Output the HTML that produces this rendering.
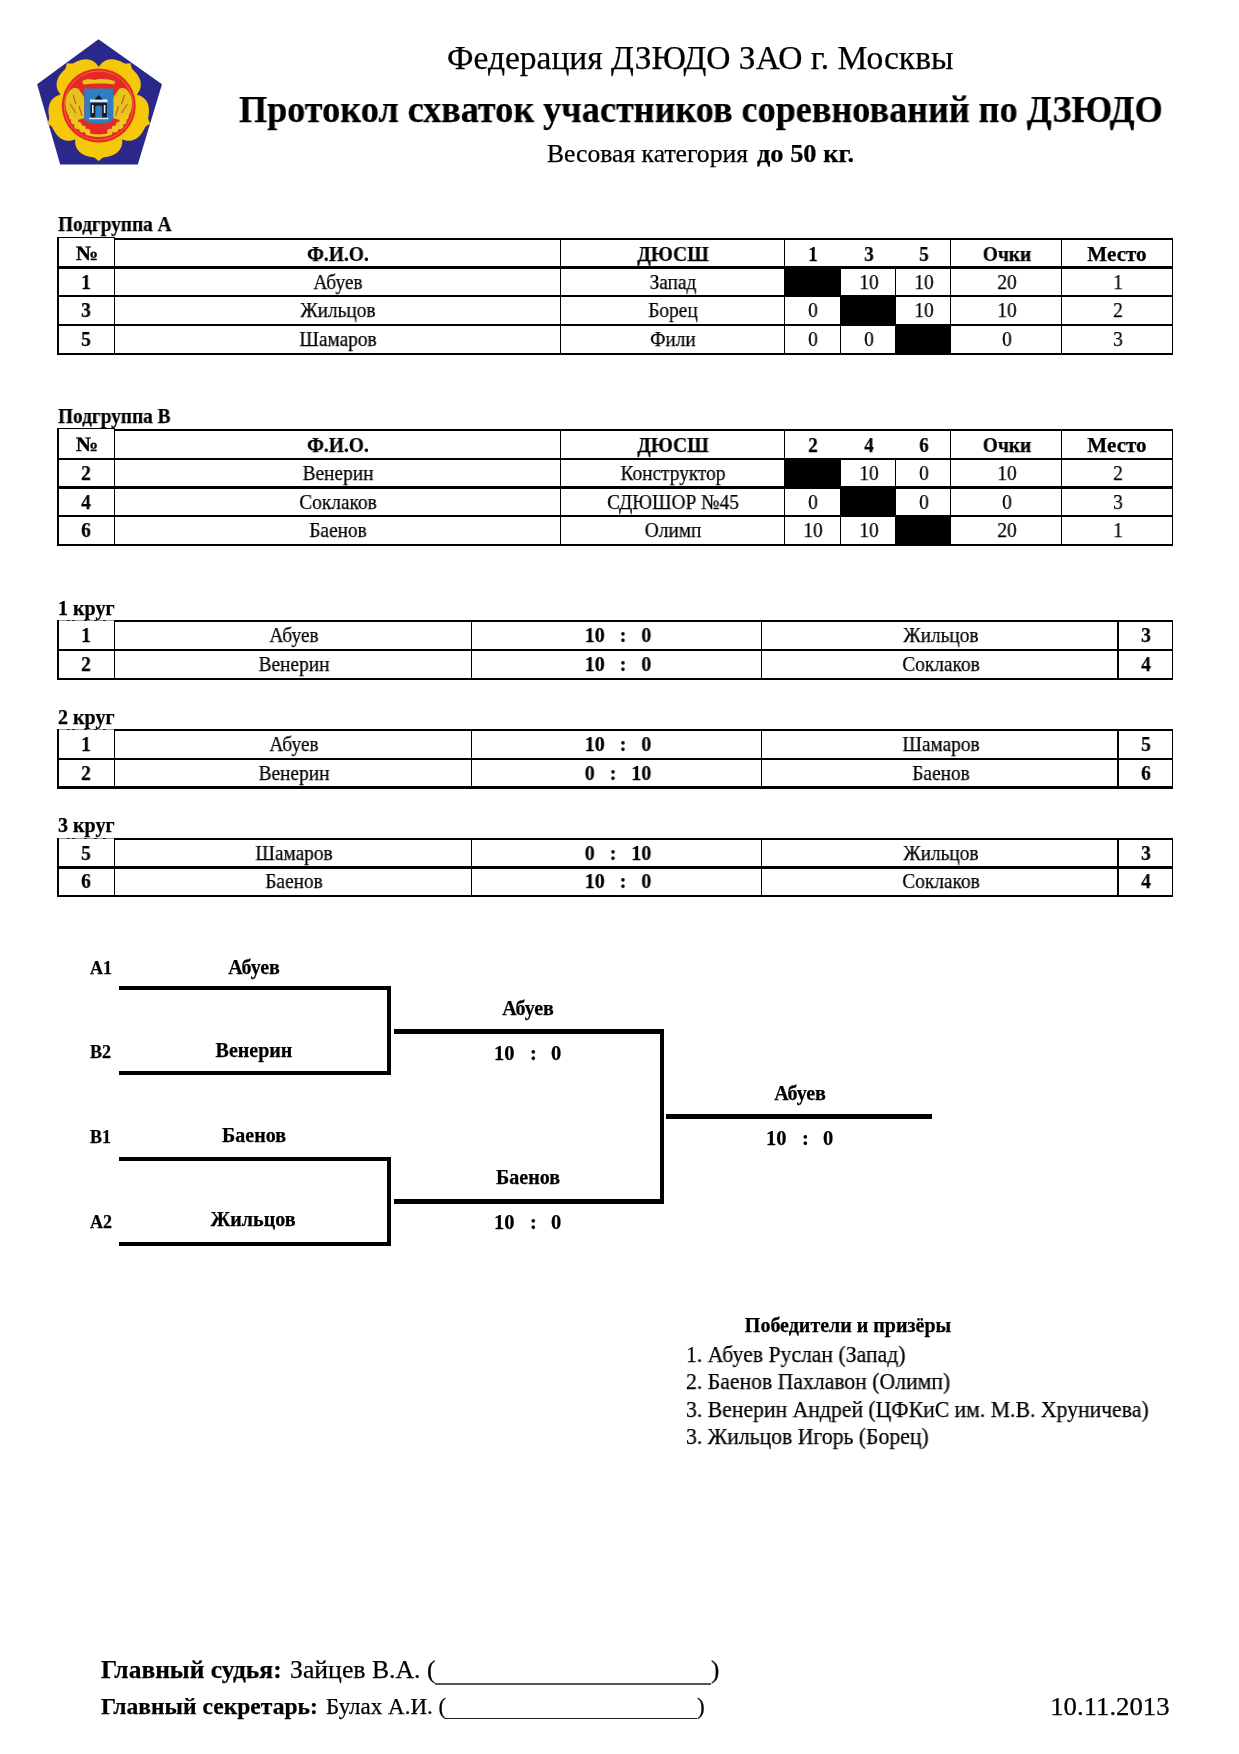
<!DOCTYPE html>
<html><head><meta charset="utf-8"><style>
html,body{margin:0;padding:0;background:#fff;}
body{width:1239px;height:1754px;position:relative;overflow:hidden;font-family:"Liberation Serif",serif;color:#000;}
.t{position:absolute;white-space:nowrap;line-height:1;will-change:transform;-webkit-text-stroke:0.25px #000;}
.r{position:absolute;}
</style></head><body>
<div class="t" style="top:40.94px;font-size:33.5px;left:447.00px;transform-origin:0 0;">Федерация ДЗЮДО ЗАО г. Москвы</div>
<div class="t" style="top:91.01px;font-size:37px;font-weight:bold;left:239.00px;transform-origin:0 0;transform:scaleX(0.978);">Протокол схваток участников соревнований по ДЗЮДО</div>
<div class="t" style="top:141.88px;font-size:24.5px;left:547.00px;transform-origin:0 0;transform:scaleX(1.046);">Весовая категория</div>
<div class="t" style="top:141.88px;font-size:24.5px;font-weight:bold;left:757.00px;transform-origin:0 0;transform:scaleX(1.078);">до 50 кг.</div>
<div class="t" style="top:214.01px;font-size:21px;font-weight:bold;left:58.00px;transform-origin:0 0;transform:scaleX(0.92);">Подгруппа А</div>
<div class="r" style="left:784px;top:266px;width:57px;height:31px;background:#000"></div>
<div class="r" style="left:840px;top:295px;width:56px;height:31px;background:#000"></div>
<div class="r" style="left:895px;top:324px;width:56px;height:31px;background:#000"></div>
<div class="r" style="left:114px;top:238px;width:1059px;height:2px;background:#000"></div>
<div class="r" style="left:57px;top:237px;width:58px;height:1px;background:#000"></div>
<div class="r" style="left:57px;top:266px;width:1116px;height:3px;background:#000"></div>
<div class="r" style="left:57px;top:295px;width:1116px;height:2px;background:#000"></div>
<div class="r" style="left:57px;top:324px;width:1116px;height:2px;background:#000"></div>
<div class="r" style="left:57px;top:353px;width:1116px;height:2px;background:#000"></div>
<div class="r" style="left:57px;top:237px;width:2px;height:118px;background:#000"></div>
<div class="r" style="left:1172px;top:238px;width:1px;height:117px;background:#000"></div>
<div class="r" style="left:114px;top:238px;width:1px;height:117px;background:#000"></div>
<div class="r" style="left:560px;top:238px;width:1px;height:117px;background:#000"></div>
<div class="r" style="left:784px;top:238px;width:1px;height:117px;background:#000"></div>
<div class="r" style="left:950px;top:238px;width:1px;height:117px;background:#000"></div>
<div class="r" style="left:1061px;top:238px;width:1px;height:117px;background:#000"></div>
<div class="r" style="left:840px;top:266px;width:1px;height:89px;background:#000"></div>
<div class="r" style="left:895px;top:266px;width:1px;height:89px;background:#000"></div>
<div class="t" style="top:242.53px;font-size:20.5px;font-weight:bold;left:87.00px;transform-origin:50% 0;transform:translateX(-50%) scaleX(1.1);">№</div>
<div class="t" style="top:243.83px;font-size:20.5px;font-weight:bold;left:338.00px;transform-origin:50% 0;transform:translateX(-50%) scaleX(0.95);">Ф.И.О.</div>
<div class="t" style="top:243.83px;font-size:20.5px;font-weight:bold;left:673.00px;transform-origin:50% 0;transform:translateX(-50%) scaleX(0.96);">ДЮСШ</div>
<div class="t" style="top:243.83px;font-size:20.5px;font-weight:bold;left:813.00px;transform-origin:50% 0;transform:translateX(-50%) scaleX(0.92);">1</div>
<div class="t" style="top:243.83px;font-size:20.5px;font-weight:bold;left:868.50px;transform-origin:50% 0;transform:translateX(-50%) scaleX(0.92);">3</div>
<div class="t" style="top:243.83px;font-size:20.5px;font-weight:bold;left:923.50px;transform-origin:50% 0;transform:translateX(-50%) scaleX(0.92);">5</div>
<div class="t" style="top:243.83px;font-size:20.5px;font-weight:bold;left:1006.50px;transform-origin:50% 0;transform:translateX(-50%) scaleX(0.95);">Очки</div>
<div class="t" style="top:243.83px;font-size:20.5px;font-weight:bold;left:1117.00px;transform-origin:50% 0;transform:translateX(-50%) scaleX(1.03);">Место</div>
<div class="t" style="top:272.11px;font-size:21px;font-weight:bold;left:85.80px;transform-origin:50% 0;transform:translateX(-50%) scaleX(0.92);">1</div>
<div class="t" style="top:272.11px;font-size:21px;left:338.00px;transform-origin:50% 0;transform:translateX(-50%) scaleX(0.92);">Абуев</div>
<div class="t" style="top:272.11px;font-size:21px;left:673.00px;transform-origin:50% 0;transform:translateX(-50%) scaleX(0.92);">Запад</div>
<div class="t" style="top:272.11px;font-size:21px;left:868.50px;transform-origin:50% 0;transform:translateX(-50%) scaleX(0.92);">10</div>
<div class="t" style="top:272.11px;font-size:21px;left:923.50px;transform-origin:50% 0;transform:translateX(-50%) scaleX(0.92);">10</div>
<div class="t" style="top:272.11px;font-size:21px;left:1006.50px;transform-origin:50% 0;transform:translateX(-50%) scaleX(0.92);">20</div>
<div class="t" style="top:272.11px;font-size:21px;left:1117.50px;transform-origin:50% 0;transform:translateX(-50%) scaleX(0.92);">1</div>
<div class="t" style="top:300.21px;font-size:21px;font-weight:bold;left:85.80px;transform-origin:50% 0;transform:translateX(-50%) scaleX(0.92);">3</div>
<div class="t" style="top:300.21px;font-size:21px;left:338.00px;transform-origin:50% 0;transform:translateX(-50%) scaleX(0.92);">Жильцов</div>
<div class="t" style="top:300.21px;font-size:21px;left:673.00px;transform-origin:50% 0;transform:translateX(-50%) scaleX(0.92);">Борец</div>
<div class="t" style="top:300.21px;font-size:21px;left:813.00px;transform-origin:50% 0;transform:translateX(-50%) scaleX(0.92);">0</div>
<div class="t" style="top:300.21px;font-size:21px;left:923.50px;transform-origin:50% 0;transform:translateX(-50%) scaleX(0.92);">10</div>
<div class="t" style="top:300.21px;font-size:21px;left:1006.50px;transform-origin:50% 0;transform:translateX(-50%) scaleX(0.92);">10</div>
<div class="t" style="top:300.21px;font-size:21px;left:1117.50px;transform-origin:50% 0;transform:translateX(-50%) scaleX(0.92);">2</div>
<div class="t" style="top:329.31px;font-size:21px;font-weight:bold;left:85.80px;transform-origin:50% 0;transform:translateX(-50%) scaleX(0.92);">5</div>
<div class="t" style="top:329.31px;font-size:21px;left:338.00px;transform-origin:50% 0;transform:translateX(-50%) scaleX(0.92);">Шамаров</div>
<div class="t" style="top:329.31px;font-size:21px;left:673.00px;transform-origin:50% 0;transform:translateX(-50%) scaleX(0.92);">Фили</div>
<div class="t" style="top:329.31px;font-size:21px;left:813.00px;transform-origin:50% 0;transform:translateX(-50%) scaleX(0.92);">0</div>
<div class="t" style="top:329.31px;font-size:21px;left:868.50px;transform-origin:50% 0;transform:translateX(-50%) scaleX(0.92);">0</div>
<div class="t" style="top:329.31px;font-size:21px;left:1006.50px;transform-origin:50% 0;transform:translateX(-50%) scaleX(0.92);">0</div>
<div class="t" style="top:329.31px;font-size:21px;left:1117.50px;transform-origin:50% 0;transform:translateX(-50%) scaleX(0.92);">3</div>
<div class="t" style="top:406.11px;font-size:21px;font-weight:bold;left:58.00px;transform-origin:0 0;transform:scaleX(0.92);">Подгруппа В</div>
<div class="r" style="left:784px;top:458px;width:57px;height:31px;background:#000"></div>
<div class="r" style="left:840px;top:486px;width:56px;height:31px;background:#000"></div>
<div class="r" style="left:895px;top:515px;width:56px;height:31px;background:#000"></div>
<div class="r" style="left:114px;top:429px;width:1059px;height:2px;background:#000"></div>
<div class="r" style="left:57px;top:428px;width:58px;height:1px;background:#000"></div>
<div class="r" style="left:57px;top:458px;width:1116px;height:2px;background:#000"></div>
<div class="r" style="left:57px;top:486px;width:1116px;height:3px;background:#000"></div>
<div class="r" style="left:57px;top:515px;width:1116px;height:2px;background:#000"></div>
<div class="r" style="left:57px;top:544px;width:1116px;height:2px;background:#000"></div>
<div class="r" style="left:57px;top:428px;width:2px;height:118px;background:#000"></div>
<div class="r" style="left:1172px;top:429px;width:1px;height:117px;background:#000"></div>
<div class="r" style="left:114px;top:429px;width:1px;height:117px;background:#000"></div>
<div class="r" style="left:560px;top:429px;width:1px;height:117px;background:#000"></div>
<div class="r" style="left:784px;top:429px;width:1px;height:117px;background:#000"></div>
<div class="r" style="left:950px;top:429px;width:1px;height:117px;background:#000"></div>
<div class="r" style="left:1061px;top:429px;width:1px;height:117px;background:#000"></div>
<div class="r" style="left:840px;top:458px;width:1px;height:88px;background:#000"></div>
<div class="r" style="left:895px;top:458px;width:1px;height:88px;background:#000"></div>
<div class="t" style="top:434.03px;font-size:20.5px;font-weight:bold;left:87.00px;transform-origin:50% 0;transform:translateX(-50%) scaleX(1.1);">№</div>
<div class="t" style="top:435.33px;font-size:20.5px;font-weight:bold;left:338.00px;transform-origin:50% 0;transform:translateX(-50%) scaleX(0.95);">Ф.И.О.</div>
<div class="t" style="top:435.33px;font-size:20.5px;font-weight:bold;left:673.00px;transform-origin:50% 0;transform:translateX(-50%) scaleX(0.96);">ДЮСШ</div>
<div class="t" style="top:435.33px;font-size:20.5px;font-weight:bold;left:813.00px;transform-origin:50% 0;transform:translateX(-50%) scaleX(0.92);">2</div>
<div class="t" style="top:435.33px;font-size:20.5px;font-weight:bold;left:868.50px;transform-origin:50% 0;transform:translateX(-50%) scaleX(0.92);">4</div>
<div class="t" style="top:435.33px;font-size:20.5px;font-weight:bold;left:923.50px;transform-origin:50% 0;transform:translateX(-50%) scaleX(0.92);">6</div>
<div class="t" style="top:435.33px;font-size:20.5px;font-weight:bold;left:1006.50px;transform-origin:50% 0;transform:translateX(-50%) scaleX(0.95);">Очки</div>
<div class="t" style="top:435.33px;font-size:20.5px;font-weight:bold;left:1117.00px;transform-origin:50% 0;transform:translateX(-50%) scaleX(1.03);">Место</div>
<div class="t" style="top:463.41px;font-size:21px;font-weight:bold;left:85.80px;transform-origin:50% 0;transform:translateX(-50%) scaleX(0.92);">2</div>
<div class="t" style="top:463.41px;font-size:21px;left:338.00px;transform-origin:50% 0;transform:translateX(-50%) scaleX(0.92);">Венерин</div>
<div class="t" style="top:463.41px;font-size:21px;left:673.00px;transform-origin:50% 0;transform:translateX(-50%) scaleX(0.92);">Конструктор</div>
<div class="t" style="top:463.41px;font-size:21px;left:868.50px;transform-origin:50% 0;transform:translateX(-50%) scaleX(0.92);">10</div>
<div class="t" style="top:463.41px;font-size:21px;left:923.50px;transform-origin:50% 0;transform:translateX(-50%) scaleX(0.92);">0</div>
<div class="t" style="top:463.41px;font-size:21px;left:1006.50px;transform-origin:50% 0;transform:translateX(-50%) scaleX(0.92);">10</div>
<div class="t" style="top:463.41px;font-size:21px;left:1117.50px;transform-origin:50% 0;transform:translateX(-50%) scaleX(0.92);">2</div>
<div class="t" style="top:492.41px;font-size:21px;font-weight:bold;left:85.80px;transform-origin:50% 0;transform:translateX(-50%) scaleX(0.92);">4</div>
<div class="t" style="top:492.41px;font-size:21px;left:338.00px;transform-origin:50% 0;transform:translateX(-50%) scaleX(0.92);">Соклаков</div>
<div class="t" style="top:492.41px;font-size:21px;left:673.00px;transform-origin:50% 0;transform:translateX(-50%) scaleX(0.92);">СДЮШОР №45</div>
<div class="t" style="top:492.41px;font-size:21px;left:813.00px;transform-origin:50% 0;transform:translateX(-50%) scaleX(0.92);">0</div>
<div class="t" style="top:492.41px;font-size:21px;left:923.50px;transform-origin:50% 0;transform:translateX(-50%) scaleX(0.92);">0</div>
<div class="t" style="top:492.41px;font-size:21px;left:1006.50px;transform-origin:50% 0;transform:translateX(-50%) scaleX(0.92);">0</div>
<div class="t" style="top:492.41px;font-size:21px;left:1117.50px;transform-origin:50% 0;transform:translateX(-50%) scaleX(0.92);">3</div>
<div class="t" style="top:520.41px;font-size:21px;font-weight:bold;left:85.80px;transform-origin:50% 0;transform:translateX(-50%) scaleX(0.92);">6</div>
<div class="t" style="top:520.41px;font-size:21px;left:338.00px;transform-origin:50% 0;transform:translateX(-50%) scaleX(0.92);">Баенов</div>
<div class="t" style="top:520.41px;font-size:21px;left:673.00px;transform-origin:50% 0;transform:translateX(-50%) scaleX(0.92);">Олимп</div>
<div class="t" style="top:520.41px;font-size:21px;left:813.00px;transform-origin:50% 0;transform:translateX(-50%) scaleX(0.92);">10</div>
<div class="t" style="top:520.41px;font-size:21px;left:868.50px;transform-origin:50% 0;transform:translateX(-50%) scaleX(0.92);">10</div>
<div class="t" style="top:520.41px;font-size:21px;left:1006.50px;transform-origin:50% 0;transform:translateX(-50%) scaleX(0.92);">20</div>
<div class="t" style="top:520.41px;font-size:21px;left:1117.50px;transform-origin:50% 0;transform:translateX(-50%) scaleX(0.92);">1</div>
<div class="t" style="top:598.45px;font-size:20px;font-weight:bold;left:58.00px;transform-origin:0 0;">1 круг</div>
<div class="r" style="left:114px;top:620px;width:1059px;height:2px;background:#000"></div>
<div class="r" style="left:57px;top:619.5px;width:57px;height:1.5px;background:#9a9a9a"></div>
<div class="r" style="left:67px;top:619.5px;width:3px;height:1.5px;background:#222"></div>
<div class="r" style="left:71.5px;top:619.5px;width:3.0px;height:1.5px;background:#222"></div>
<div class="r" style="left:83.5px;top:619.5px;width:3.5px;height:1.5px;background:#222"></div>
<div class="r" style="left:93.5px;top:619.5px;width:3.5px;height:1.5px;background:#222"></div>
<div class="r" style="left:103px;top:619.5px;width:3px;height:1.5px;background:#222"></div>
<div class="r" style="left:57px;top:649px;width:1116px;height:2px;background:#000"></div>
<div class="r" style="left:57px;top:678px;width:1116px;height:2px;background:#000"></div>
<div class="r" style="left:57px;top:620px;width:2px;height:60px;background:#000"></div>
<div class="r" style="left:1172px;top:620px;width:1px;height:60px;background:#000"></div>
<div class="r" style="left:114px;top:620px;width:1px;height:60px;background:#000"></div>
<div class="r" style="left:471px;top:620px;width:1px;height:60px;background:#000"></div>
<div class="r" style="left:761px;top:620px;width:1px;height:60px;background:#000"></div>
<div class="r" style="left:1117px;top:620px;width:2px;height:60px;background:#000"></div>
<div class="t" style="top:625.41px;font-size:21px;font-weight:bold;left:85.50px;transform-origin:50% 0;transform:translateX(-50%) scaleX(0.92);">1</div>
<div class="t" style="top:625.41px;font-size:21px;left:293.50px;transform-origin:50% 0;transform:translateX(-50%) scaleX(0.92);">Абуев</div>
<div class="t" style="top:625.41px;font-size:21px;font-weight:bold;left:617.50px;transform-origin:50% 0;transform:translateX(-50%) scaleX(0.95);">10&nbsp;&nbsp;&nbsp;:&nbsp;&nbsp;&nbsp;0</div>
<div class="t" style="top:625.41px;font-size:21px;left:940.50px;transform-origin:50% 0;transform:translateX(-50%) scaleX(0.92);">Жильцов</div>
<div class="t" style="top:625.41px;font-size:21px;font-weight:bold;left:1145.50px;transform-origin:50% 0;transform:translateX(-50%) scaleX(0.92);">3</div>
<div class="t" style="top:654.21px;font-size:21px;font-weight:bold;left:85.50px;transform-origin:50% 0;transform:translateX(-50%) scaleX(0.92);">2</div>
<div class="t" style="top:654.21px;font-size:21px;left:293.50px;transform-origin:50% 0;transform:translateX(-50%) scaleX(0.92);">Венерин</div>
<div class="t" style="top:654.21px;font-size:21px;font-weight:bold;left:617.50px;transform-origin:50% 0;transform:translateX(-50%) scaleX(0.95);">10&nbsp;&nbsp;&nbsp;:&nbsp;&nbsp;&nbsp;0</div>
<div class="t" style="top:654.21px;font-size:21px;left:940.50px;transform-origin:50% 0;transform:translateX(-50%) scaleX(0.92);">Соклаков</div>
<div class="t" style="top:654.21px;font-size:21px;font-weight:bold;left:1145.50px;transform-origin:50% 0;transform:translateX(-50%) scaleX(0.92);">4</div>
<div class="t" style="top:707.15px;font-size:20px;font-weight:bold;left:58.00px;transform-origin:0 0;">2 круг</div>
<div class="r" style="left:114px;top:729px;width:1059px;height:2px;background:#000"></div>
<div class="r" style="left:57px;top:728.5px;width:57px;height:1.5px;background:#9a9a9a"></div>
<div class="r" style="left:67px;top:728.5px;width:3px;height:1.5px;background:#222"></div>
<div class="r" style="left:71.5px;top:728.5px;width:3.0px;height:1.5px;background:#222"></div>
<div class="r" style="left:83.5px;top:728.5px;width:3.5px;height:1.5px;background:#222"></div>
<div class="r" style="left:93.5px;top:728.5px;width:3.5px;height:1.5px;background:#222"></div>
<div class="r" style="left:103px;top:728.5px;width:3px;height:1.5px;background:#222"></div>
<div class="r" style="left:57px;top:758px;width:1116px;height:2px;background:#000"></div>
<div class="r" style="left:57px;top:786px;width:1116px;height:3px;background:#000"></div>
<div class="r" style="left:57px;top:729px;width:2px;height:60px;background:#000"></div>
<div class="r" style="left:1172px;top:729px;width:1px;height:60px;background:#000"></div>
<div class="r" style="left:114px;top:729px;width:1px;height:60px;background:#000"></div>
<div class="r" style="left:471px;top:729px;width:1px;height:60px;background:#000"></div>
<div class="r" style="left:761px;top:729px;width:1px;height:60px;background:#000"></div>
<div class="r" style="left:1117px;top:729px;width:2px;height:60px;background:#000"></div>
<div class="t" style="top:734.11px;font-size:21px;font-weight:bold;left:85.50px;transform-origin:50% 0;transform:translateX(-50%) scaleX(0.92);">1</div>
<div class="t" style="top:734.11px;font-size:21px;left:293.50px;transform-origin:50% 0;transform:translateX(-50%) scaleX(0.92);">Абуев</div>
<div class="t" style="top:734.11px;font-size:21px;font-weight:bold;left:617.50px;transform-origin:50% 0;transform:translateX(-50%) scaleX(0.95);">10&nbsp;&nbsp;&nbsp;:&nbsp;&nbsp;&nbsp;0</div>
<div class="t" style="top:734.11px;font-size:21px;left:940.50px;transform-origin:50% 0;transform:translateX(-50%) scaleX(0.92);">Шамаров</div>
<div class="t" style="top:734.11px;font-size:21px;font-weight:bold;left:1145.50px;transform-origin:50% 0;transform:translateX(-50%) scaleX(0.92);">5</div>
<div class="t" style="top:763.21px;font-size:21px;font-weight:bold;left:85.50px;transform-origin:50% 0;transform:translateX(-50%) scaleX(0.92);">2</div>
<div class="t" style="top:763.21px;font-size:21px;left:293.50px;transform-origin:50% 0;transform:translateX(-50%) scaleX(0.92);">Венерин</div>
<div class="t" style="top:763.21px;font-size:21px;font-weight:bold;left:617.50px;transform-origin:50% 0;transform:translateX(-50%) scaleX(0.95);">0&nbsp;&nbsp;&nbsp;:&nbsp;&nbsp;&nbsp;10</div>
<div class="t" style="top:763.21px;font-size:21px;left:940.50px;transform-origin:50% 0;transform:translateX(-50%) scaleX(0.92);">Баенов</div>
<div class="t" style="top:763.21px;font-size:21px;font-weight:bold;left:1145.50px;transform-origin:50% 0;transform:translateX(-50%) scaleX(0.92);">6</div>
<div class="t" style="top:814.85px;font-size:20px;font-weight:bold;left:58.00px;transform-origin:0 0;">3 круг</div>
<div class="r" style="left:114px;top:838px;width:1059px;height:2px;background:#000"></div>
<div class="r" style="left:57px;top:837.5px;width:57px;height:1.5px;background:#9a9a9a"></div>
<div class="r" style="left:67px;top:837.5px;width:3px;height:1.5px;background:#222"></div>
<div class="r" style="left:71.5px;top:837.5px;width:3.0px;height:1.5px;background:#222"></div>
<div class="r" style="left:83.5px;top:837.5px;width:3.5px;height:1.5px;background:#222"></div>
<div class="r" style="left:93.5px;top:837.5px;width:3.5px;height:1.5px;background:#222"></div>
<div class="r" style="left:103px;top:837.5px;width:3px;height:1.5px;background:#222"></div>
<div class="r" style="left:57px;top:866px;width:1116px;height:3px;background:#000"></div>
<div class="r" style="left:57px;top:895px;width:1116px;height:2px;background:#000"></div>
<div class="r" style="left:57px;top:838px;width:2px;height:59px;background:#000"></div>
<div class="r" style="left:1172px;top:838px;width:1px;height:59px;background:#000"></div>
<div class="r" style="left:114px;top:838px;width:1px;height:59px;background:#000"></div>
<div class="r" style="left:471px;top:838px;width:1px;height:59px;background:#000"></div>
<div class="r" style="left:761px;top:838px;width:1px;height:59px;background:#000"></div>
<div class="r" style="left:1117px;top:838px;width:2px;height:59px;background:#000"></div>
<div class="t" style="top:842.91px;font-size:21px;font-weight:bold;left:85.50px;transform-origin:50% 0;transform:translateX(-50%) scaleX(0.92);">5</div>
<div class="t" style="top:842.91px;font-size:21px;left:293.50px;transform-origin:50% 0;transform:translateX(-50%) scaleX(0.92);">Шамаров</div>
<div class="t" style="top:842.91px;font-size:21px;font-weight:bold;left:617.50px;transform-origin:50% 0;transform:translateX(-50%) scaleX(0.95);">0&nbsp;&nbsp;&nbsp;:&nbsp;&nbsp;&nbsp;10</div>
<div class="t" style="top:842.91px;font-size:21px;left:940.50px;transform-origin:50% 0;transform:translateX(-50%) scaleX(0.92);">Жильцов</div>
<div class="t" style="top:842.91px;font-size:21px;font-weight:bold;left:1145.50px;transform-origin:50% 0;transform:translateX(-50%) scaleX(0.92);">3</div>
<div class="t" style="top:871.41px;font-size:21px;font-weight:bold;left:85.50px;transform-origin:50% 0;transform:translateX(-50%) scaleX(0.92);">6</div>
<div class="t" style="top:871.41px;font-size:21px;left:293.50px;transform-origin:50% 0;transform:translateX(-50%) scaleX(0.92);">Баенов</div>
<div class="t" style="top:871.41px;font-size:21px;font-weight:bold;left:617.50px;transform-origin:50% 0;transform:translateX(-50%) scaleX(0.95);">10&nbsp;&nbsp;&nbsp;:&nbsp;&nbsp;&nbsp;0</div>
<div class="t" style="top:871.41px;font-size:21px;left:940.50px;transform-origin:50% 0;transform:translateX(-50%) scaleX(0.92);">Соклаков</div>
<div class="t" style="top:871.41px;font-size:21px;font-weight:bold;left:1145.50px;transform-origin:50% 0;transform:translateX(-50%) scaleX(0.92);">4</div>
<div class="r" style="left:119px;top:986px;width:272px;height:4px;background:#000"></div>
<div class="r" style="left:387px;top:986px;width:4px;height:89px;background:#000"></div>
<div class="r" style="left:119px;top:1071px;width:272px;height:4px;background:#000"></div>
<div class="r" style="left:119px;top:1157px;width:272px;height:4px;background:#000"></div>
<div class="r" style="left:387px;top:1157px;width:4px;height:89px;background:#000"></div>
<div class="r" style="left:119px;top:1242px;width:272px;height:4px;background:#000"></div>
<div class="r" style="left:394px;top:1029px;width:270px;height:5px;background:#000"></div>
<div class="r" style="left:660px;top:1029px;width:4px;height:175px;background:#000"></div>
<div class="r" style="left:394px;top:1199px;width:270px;height:5px;background:#000"></div>
<div class="r" style="left:666px;top:1114px;width:266px;height:5px;background:#000"></div>
<div class="t" style="top:958.92px;font-size:18px;font-weight:bold;left:90.00px;transform-origin:0 0;">A1</div>
<div class="t" style="top:1043.33px;font-size:18px;font-weight:bold;left:90.00px;transform-origin:0 0;">B2</div>
<div class="t" style="top:1128.22px;font-size:18px;font-weight:bold;left:90.00px;transform-origin:0 0;">B1</div>
<div class="t" style="top:1212.92px;font-size:18px;font-weight:bold;left:90.00px;transform-origin:0 0;">A2</div>
<div class="t" style="top:957.25px;font-size:20px;font-weight:bold;left:254.00px;transform-origin:50% 0;transform:translateX(-50%);">Абуев</div>
<div class="t" style="top:1040.25px;font-size:20px;font-weight:bold;left:254.00px;transform-origin:50% 0;transform:translateX(-50%);">Венерин</div>
<div class="t" style="top:1125.25px;font-size:20px;font-weight:bold;left:254.00px;transform-origin:50% 0;transform:translateX(-50%);">Баенов</div>
<div class="t" style="top:1209.25px;font-size:20px;font-weight:bold;left:253.30px;transform-origin:50% 0;transform:translateX(-50%);">Жильцов</div>
<div class="t" style="top:998.25px;font-size:20px;font-weight:bold;left:527.60px;transform-origin:50% 0;transform:translateX(-50%);">Абуев</div>
<div class="t" style="top:1167.45px;font-size:20px;font-weight:bold;left:527.70px;transform-origin:50% 0;transform:translateX(-50%);">Баенов</div>
<div class="t" style="top:1083.25px;font-size:20px;font-weight:bold;left:799.70px;transform-origin:50% 0;transform:translateX(-50%);">Абуев</div>
<div class="t" style="top:1042.53px;font-size:20.5px;font-weight:bold;right:724.50px;transform-origin:100% 0;">10</div>
<div class="t" style="top:1042.53px;font-size:20.5px;font-weight:bold;left:530.00px;transform-origin:0 0;">:</div>
<div class="t" style="top:1042.53px;font-size:20.5px;font-weight:bold;left:551.00px;transform-origin:0 0;">0</div>
<div class="t" style="top:1211.83px;font-size:20.5px;font-weight:bold;right:724.50px;transform-origin:100% 0;">10</div>
<div class="t" style="top:1211.83px;font-size:20.5px;font-weight:bold;left:530.00px;transform-origin:0 0;">:</div>
<div class="t" style="top:1211.83px;font-size:20.5px;font-weight:bold;left:551.00px;transform-origin:0 0;">0</div>
<div class="t" style="top:1127.83px;font-size:20.5px;font-weight:bold;right:452.70px;transform-origin:100% 0;">10</div>
<div class="t" style="top:1127.83px;font-size:20.5px;font-weight:bold;left:801.80px;transform-origin:0 0;">:</div>
<div class="t" style="top:1127.83px;font-size:20.5px;font-weight:bold;left:822.80px;transform-origin:0 0;">0</div>
<div class="t" style="top:1315.45px;font-size:20px;font-weight:bold;left:848.00px;transform-origin:50% 0;transform:translateX(-50%);">Победители и призёры</div>
<div class="t" style="top:1344.16px;font-size:22.5px;left:686.00px;transform-origin:0 0;transform:scaleX(0.965);">1. Абуев Руслан (Запад)</div>
<div class="t" style="top:1370.66px;font-size:22.5px;left:686.00px;transform-origin:0 0;transform:scaleX(0.965);">2. Баенов Пахлавон (Олимп)</div>
<div class="t" style="top:1398.66px;font-size:22.5px;left:686.00px;transform-origin:0 0;transform:scaleX(0.965);">3. Венерин Андрей (ЦФКиС им. М.В. Хруничева)</div>
<div class="t" style="top:1425.66px;font-size:22.5px;left:686.00px;transform-origin:0 0;transform:scaleX(0.965);">3. Жильцов Игорь (Борец)</div>
<div class="t" style="top:1657.06px;font-size:25px;font-weight:bold;left:101.00px;transform-origin:0 0;transform:scaleX(1.02);">Главный судья:</div>
<div class="t" style="top:1657.06px;font-size:25px;left:289.70px;transform-origin:0 0;transform:scaleX(1.03);">Зайцев В.А. (</div>
<div class="t" style="top:1694.74px;font-size:23px;font-weight:bold;left:101.00px;transform-origin:0 0;transform:scaleX(1.024);">Главный секретарь:</div>
<div class="t" style="top:1694.74px;font-size:23px;left:325.50px;transform-origin:0 0;">Булах А.И. (</div>
<div class="t" style="top:1694.06px;font-size:25px;right:69.50px;transform-origin:100% 0;transform:scaleX(1.07);">10.11.2013</div>
<svg class="r" style="left:0;top:0" width="200" height="200" viewBox="0 0 200 200">
<polygon points="98.5,39.3 162,84.2 137.8,164.4 60.2,164.4 37.1,84.2" fill="#2b288c"/>
<polygon points="122.2,139.4 122.2,139.7 122.3,140.0 122.3,140.4 122.3,140.7 122.3,141.0 122.3,141.3 122.3,141.6 122.3,142.0 122.3,142.3 122.2,142.6 122.2,142.9 122.2,143.2 122.1,143.5 122.1,143.7 122.1,144.0 122.0,144.3 122.0,144.6 121.9,144.8 121.8,145.1 121.8,145.4 121.7,145.6 121.6,145.9 121.5,146.1 121.4,146.4 121.4,146.6 121.3,146.9 121.2,147.1 121.1,147.4 121.0,147.6 120.9,147.8 120.7,148.0 120.6,148.3 120.5,148.5 120.4,148.7 120.3,148.9 120.1,149.1 120.0,149.3 119.9,149.5 119.8,149.7 119.6,149.9 119.5,150.1 119.3,150.3 119.2,150.4 119.0,150.6 118.9,150.8 118.7,151.0 118.6,151.1 118.4,151.3 118.3,151.5 118.1,151.6 117.9,151.8 117.8,152.0 117.6,152.1 117.4,152.3 117.3,152.4 117.1,152.5 116.9,152.7 116.8,152.8 116.6,153.0 116.4,153.1 116.2,153.2 116.0,153.4 115.8,153.5 115.7,153.6 115.5,153.7 115.3,153.8 115.1,154.0 114.9,154.1 114.7,154.2 114.5,154.3 114.3,154.4 114.1,154.5 113.9,154.6 113.7,154.7 113.5,154.8 113.3,154.9 113.1,155.0 112.9,155.1 112.7,155.2 112.5,155.2 112.3,155.3 112.1,155.4 111.9,155.5 111.7,155.6 111.5,155.6 111.3,155.7 111.1,155.8 110.9,155.9 110.7,155.9 110.5,156.0 110.3,156.1 110.0,156.1 109.8,156.2 109.6,156.3 109.4,156.3 109.2,156.4 109.0,156.4 108.8,156.5 108.6,156.5 108.3,156.6 108.1,156.6 107.9,156.7 107.7,156.7 107.5,156.8 107.3,156.8 107.0,156.9 106.8,156.9 106.6,156.9 106.4,157.0 106.2,157.0 106.0,157.0 105.7,157.1 105.5,157.1 105.3,157.1 105.1,157.2 104.9,157.2 104.6,157.2 104.4,157.3 104.2,157.3 104.0,157.3 103.8,157.4 103.6,157.4 103.3,157.5 103.1,157.6 102.9,157.8 102.7,157.9 102.5,158.0 102.3,158.2 102.1,158.3 101.8,158.5 101.6,158.6 101.4,158.8 101.2,159.0 101.0,159.2 100.8,159.3 100.5,159.5 100.3,159.7 100.1,159.9 99.9,160.1 99.6,160.3 99.4,160.5 99.2,160.8 98.9,161.0 98.7,161.2 98.5,161.0 98.2,160.8 98.0,160.5 97.8,160.3 97.5,160.1 97.3,159.9 97.1,159.7 96.9,159.5 96.6,159.3 96.4,159.2 96.2,159.0 96.0,158.8 95.8,158.6 95.6,158.5 95.3,158.3 95.1,158.2 94.9,158.0 94.7,157.9 94.5,157.8 94.3,157.6 94.1,157.5 93.8,157.4 93.6,157.4 93.4,157.3 93.2,157.3 93.0,157.3 92.8,157.2 92.5,157.2 92.3,157.2 92.1,157.1 91.9,157.1 91.7,157.1 91.4,157.0 91.2,157.0 91.0,157.0 90.8,156.9 90.6,156.9 90.4,156.9 90.1,156.8 89.9,156.8 89.7,156.7 89.5,156.7 89.3,156.6 89.1,156.6 88.8,156.5 88.6,156.5 88.4,156.4 88.2,156.4 88.0,156.3 87.8,156.3 87.6,156.2 87.4,156.1 87.1,156.1 86.9,156.0 86.7,155.9 86.5,155.9 86.3,155.8 86.1,155.7 85.9,155.6 85.7,155.6 85.5,155.5 85.3,155.4 85.1,155.3 84.9,155.2 84.7,155.2 84.5,155.1 84.3,155.0 84.1,154.9 83.9,154.8 83.7,154.7 83.5,154.6 83.3,154.5 83.1,154.4 82.9,154.3 82.7,154.2 82.5,154.1 82.3,154.0 82.1,153.8 81.9,153.7 81.7,153.6 81.6,153.5 81.4,153.4 81.2,153.2 81.0,153.1 80.8,153.0 80.6,152.8 80.5,152.7 80.3,152.5 80.1,152.4 80.0,152.3 79.8,152.1 79.6,152.0 79.5,151.8 79.3,151.6 79.1,151.5 79.0,151.3 78.8,151.1 78.7,151.0 78.5,150.8 78.4,150.6 78.2,150.4 78.1,150.3 77.9,150.1 77.8,149.9 77.6,149.7 77.5,149.5 77.4,149.3 77.3,149.1 77.1,148.9 77.0,148.7 76.9,148.5 76.8,148.3 76.7,148.0 76.5,147.8 76.4,147.6 76.3,147.4 76.2,147.1 76.1,146.9 76.0,146.6 76.0,146.4 75.9,146.1 75.8,145.9 75.7,145.6 75.6,145.4 75.6,145.1 75.5,144.8 75.4,144.6 75.4,144.3 75.3,144.0 75.3,143.7 75.3,143.5 75.2,143.2 75.2,142.9 75.2,142.6 75.1,142.3 75.1,142.0 75.1,141.6 75.1,141.3 75.1,141.0 75.1,140.7 75.1,140.4 75.1,140.0 75.2,139.7 75.2,139.4 74.9,139.5 74.6,139.6 74.3,139.7 73.9,139.8 73.6,140.0 73.3,140.1 73.0,140.1 72.7,140.2 72.4,140.3 72.1,140.4 71.9,140.4 71.6,140.5 71.3,140.6 71.0,140.6 70.7,140.7 70.4,140.7 70.1,140.7 69.9,140.8 69.6,140.8 69.3,140.8 69.1,140.8 68.8,140.8 68.5,140.8 68.3,140.8 68.0,140.8 67.7,140.8 67.5,140.8 67.2,140.7 67.0,140.7 66.7,140.7 66.5,140.6 66.2,140.6 66.0,140.6 65.8,140.5 65.5,140.5 65.3,140.4 65.1,140.3 64.8,140.3 64.6,140.2 64.4,140.1 64.2,140.1 63.9,140.0 63.7,139.9 63.5,139.8 63.3,139.7 63.1,139.6 62.9,139.6 62.7,139.5 62.4,139.4 62.2,139.3 62.0,139.1 61.8,139.0 61.6,138.9 61.5,138.8 61.3,138.7 61.1,138.6 60.9,138.5 60.7,138.3 60.5,138.2 60.3,138.1 60.2,137.9 60.0,137.8 59.8,137.7 59.6,137.5 59.5,137.4 59.3,137.2 59.1,137.1 58.9,137.0 58.8,136.8 58.6,136.7 58.5,136.5 58.3,136.4 58.1,136.2 58.0,136.0 57.8,135.9 57.7,135.7 57.5,135.6 57.4,135.4 57.2,135.2 57.1,135.1 57.0,134.9 56.8,134.7 56.7,134.6 56.5,134.4 56.4,134.2 56.3,134.0 56.1,133.9 56.0,133.7 55.9,133.5 55.7,133.3 55.6,133.1 55.5,133.0 55.4,132.8 55.2,132.6 55.1,132.4 55.0,132.2 54.9,132.0 54.8,131.9 54.6,131.7 54.5,131.5 54.4,131.3 54.3,131.1 54.2,130.9 54.1,130.7 54.0,130.5 53.9,130.3 53.8,130.1 53.7,130.0 53.5,129.8 53.4,129.6 53.3,129.4 53.2,129.2 53.1,129.0 53.0,128.8 53.0,128.6 52.9,128.4 52.8,128.2 52.7,128.0 52.6,127.8 52.5,127.6 52.4,127.4 52.2,127.2 52.1,127.0 51.9,126.9 51.7,126.7 51.5,126.5 51.3,126.4 51.1,126.2 50.9,126.1 50.7,125.9 50.5,125.7 50.3,125.6 50.0,125.4 49.8,125.3 49.6,125.1 49.3,125.0 49.1,124.8 48.8,124.7 48.5,124.5 48.3,124.4 48.0,124.2 47.7,124.1 47.4,123.9 47.2,123.7 47.3,123.5 47.4,123.2 47.6,122.9 47.7,122.6 47.8,122.3 47.9,122.0 48.1,121.8 48.2,121.5 48.3,121.2 48.4,121.0 48.5,120.7 48.6,120.4 48.7,120.2 48.8,119.9 48.9,119.7 48.9,119.4 49.0,119.2 49.1,118.9 49.1,118.7 49.2,118.4 49.2,118.2 49.2,118.0 49.2,117.7 49.2,117.5 49.2,117.3 49.1,117.1 49.1,116.9 49.0,116.7 49.0,116.4 49.0,116.2 48.9,116.0 48.9,115.8 48.9,115.6 48.8,115.3 48.8,115.1 48.8,114.9 48.7,114.7 48.7,114.5 48.7,114.3 48.7,114.0 48.6,113.8 48.6,113.6 48.6,113.4 48.6,113.2 48.6,112.9 48.5,112.7 48.5,112.5 48.5,112.3 48.5,112.1 48.5,111.8 48.5,111.6 48.5,111.4 48.5,111.2 48.5,111.0 48.5,110.7 48.5,110.5 48.5,110.3 48.5,110.1 48.5,109.9 48.5,109.6 48.5,109.4 48.5,109.2 48.5,109.0 48.5,108.8 48.6,108.5 48.6,108.3 48.6,108.1 48.6,107.9 48.7,107.7 48.7,107.4 48.7,107.2 48.8,107.0 48.8,106.8 48.8,106.6 48.9,106.3 48.9,106.1 49.0,105.9 49.0,105.7 49.1,105.5 49.1,105.3 49.2,105.1 49.3,104.8 49.3,104.6 49.4,104.4 49.5,104.2 49.5,104.0 49.6,103.8 49.7,103.6 49.8,103.4 49.9,103.2 50.0,102.9 50.1,102.7 50.1,102.5 50.2,102.3 50.4,102.1 50.5,101.9 50.6,101.7 50.7,101.5 50.8,101.3 50.9,101.1 51.0,100.9 51.2,100.7 51.3,100.6 51.4,100.4 51.6,100.2 51.7,100.0 51.9,99.8 52.0,99.6 52.2,99.4 52.4,99.2 52.5,99.1 52.7,98.9 52.9,98.7 53.0,98.5 53.2,98.4 53.4,98.2 53.6,98.0 53.8,97.9 54.0,97.7 54.2,97.5 54.4,97.4 54.6,97.2 54.9,97.1 55.1,96.9 55.3,96.8 55.5,96.6 55.8,96.5 56.0,96.4 56.3,96.2 56.5,96.1 56.8,96.0 57.1,95.8 57.3,95.7 57.6,95.6 57.9,95.5 58.2,95.4 58.5,95.3 58.8,95.2 59.1,95.1 59.4,95.0 59.7,94.9 60.0,94.8 60.3,94.7 60.7,94.6 60.4,94.4 60.2,94.1 60.0,93.9 59.8,93.6 59.6,93.4 59.4,93.1 59.3,92.8 59.1,92.6 58.9,92.3 58.7,92.1 58.6,91.8 58.4,91.5 58.3,91.3 58.2,91.0 58.0,90.8 57.9,90.5 57.8,90.3 57.7,90.0 57.6,89.8 57.5,89.5 57.4,89.3 57.3,89.0 57.2,88.7 57.1,88.5 57.1,88.2 57.0,88.0 56.9,87.7 56.9,87.5 56.8,87.3 56.8,87.0 56.7,86.8 56.7,86.5 56.7,86.3 56.6,86.0 56.6,85.8 56.6,85.6 56.6,85.3 56.6,85.1 56.6,84.8 56.6,84.6 56.6,84.4 56.6,84.1 56.6,83.9 56.6,83.7 56.6,83.4 56.6,83.2 56.7,83.0 56.7,82.7 56.7,82.5 56.8,82.3 56.8,82.1 56.8,81.8 56.9,81.6 56.9,81.4 57.0,81.2 57.0,81.0 57.1,80.8 57.2,80.5 57.2,80.3 57.3,80.1 57.4,79.9 57.4,79.7 57.5,79.5 57.6,79.3 57.7,79.1 57.8,78.9 57.8,78.7 57.9,78.4 58.0,78.2 58.1,78.0 58.2,77.8 58.3,77.6 58.4,77.5 58.5,77.3 58.6,77.1 58.7,76.9 58.8,76.7 58.9,76.5 59.0,76.3 59.2,76.1 59.3,75.9 59.4,75.7 59.5,75.5 59.6,75.4 59.7,75.2 59.9,75.0 60.0,74.8 60.1,74.6 60.3,74.5 60.4,74.3 60.5,74.1 60.6,73.9 60.8,73.7 60.9,73.6 61.1,73.4 61.2,73.2 61.3,73.1 61.5,72.9 61.6,72.7 61.8,72.6 61.9,72.4 62.1,72.2 62.2,72.1 62.3,71.9 62.5,71.7 62.6,71.6 62.8,71.4 62.9,71.2 63.1,71.1 63.3,70.9 63.4,70.8 63.6,70.6 63.7,70.5 63.9,70.3 64.0,70.2 64.2,70.0 64.4,69.9 64.5,69.7 64.7,69.6 64.8,69.4 65.0,69.2 65.1,69.0 65.2,68.8 65.3,68.6 65.4,68.4 65.5,68.2 65.6,67.9 65.7,67.7 65.8,67.5 65.9,67.2 66.0,67.0 66.1,66.7 66.1,66.4 66.2,66.1 66.3,65.9 66.3,65.6 66.4,65.3 66.5,65.0 66.5,64.7 66.6,64.4 66.7,64.1 66.7,63.8 66.8,63.5 66.8,63.2 67.2,63.2 67.5,63.2 67.8,63.3 68.1,63.3 68.4,63.3 68.7,63.4 69.0,63.4 69.3,63.4 69.6,63.4 69.9,63.5 70.2,63.5 70.4,63.5 70.7,63.5 71.0,63.5 71.3,63.5 71.5,63.5 71.8,63.5 72.0,63.5 72.3,63.5 72.5,63.4 72.7,63.4 73.0,63.3 73.2,63.3 73.4,63.2 73.6,63.1 73.8,63.0 74.0,62.9 74.2,62.8 74.4,62.7 74.6,62.5 74.8,62.4 75.0,62.3 75.2,62.2 75.4,62.1 75.5,62.0 75.7,62.0 75.9,61.9 76.1,61.8 76.3,61.7 76.5,61.6 76.7,61.5 76.9,61.4 77.2,61.3 77.4,61.2 77.6,61.1 77.8,61.1 78.0,61.0 78.2,60.9 78.4,60.8 78.6,60.7 78.8,60.7 79.0,60.6 79.2,60.5 79.4,60.4 79.6,60.4 79.8,60.3 80.0,60.2 80.3,60.2 80.5,60.1 80.7,60.1 80.9,60.0 81.1,59.9 81.3,59.9 81.5,59.8 81.8,59.8 82.0,59.7 82.2,59.7 82.4,59.7 82.6,59.6 82.8,59.6 83.1,59.5 83.3,59.5 83.5,59.5 83.7,59.4 83.9,59.4 84.1,59.4 84.4,59.4 84.6,59.4 84.8,59.3 85.0,59.3 85.3,59.3 85.5,59.3 85.7,59.3 85.9,59.3 86.1,59.3 86.4,59.3 86.6,59.3 86.8,59.3 87.0,59.4 87.3,59.4 87.5,59.4 87.7,59.4 87.9,59.4 88.2,59.5 88.4,59.5 88.6,59.6 88.8,59.6 89.1,59.6 89.3,59.7 89.5,59.7 89.7,59.8 90.0,59.9 90.2,59.9 90.4,60.0 90.6,60.1 90.9,60.2 91.1,60.2 91.3,60.3 91.5,60.4 91.8,60.5 92.0,60.6 92.2,60.7 92.4,60.8 92.6,61.0 92.9,61.1 93.1,61.2 93.3,61.3 93.5,61.5 93.7,61.6 93.9,61.8 94.2,61.9 94.4,62.1 94.6,62.2 94.8,62.4 95.0,62.6 95.2,62.8 95.4,62.9 95.6,63.1 95.8,63.3 96.0,63.5 96.2,63.7 96.4,63.9 96.6,64.2 96.8,64.4 97.0,64.6 97.2,64.9 97.4,65.1 97.6,65.4 97.8,65.6 98.0,65.9 98.2,66.1 98.3,66.4 98.5,66.7 98.7,67.0 98.9,66.7 99.1,66.4 99.2,66.1 99.4,65.9 99.6,65.6 99.8,65.4 100.0,65.1 100.2,64.9 100.4,64.6 100.6,64.4 100.8,64.2 101.0,63.9 101.2,63.7 101.4,63.5 101.6,63.3 101.8,63.1 102.0,62.9 102.2,62.8 102.4,62.6 102.6,62.4 102.8,62.2 103.0,62.1 103.2,61.9 103.5,61.8 103.7,61.6 103.9,61.5 104.1,61.3 104.3,61.2 104.5,61.1 104.8,61.0 105.0,60.8 105.2,60.7 105.4,60.6 105.6,60.5 105.9,60.4 106.1,60.3 106.3,60.2 106.5,60.2 106.8,60.1 107.0,60.0 107.2,59.9 107.4,59.9 107.7,59.8 107.9,59.7 108.1,59.7 108.3,59.6 108.6,59.6 108.8,59.6 109.0,59.5 109.2,59.5 109.5,59.4 109.7,59.4 109.9,59.4 110.1,59.4 110.4,59.4 110.6,59.3 110.8,59.3 111.0,59.3 111.3,59.3 111.5,59.3 111.7,59.3 111.9,59.3 112.1,59.3 112.4,59.3 112.6,59.3 112.8,59.4 113.0,59.4 113.3,59.4 113.5,59.4 113.7,59.4 113.9,59.5 114.1,59.5 114.3,59.5 114.6,59.6 114.8,59.6 115.0,59.7 115.2,59.7 115.4,59.7 115.6,59.8 115.9,59.8 116.1,59.9 116.3,59.9 116.5,60.0 116.7,60.1 116.9,60.1 117.1,60.2 117.4,60.2 117.6,60.3 117.8,60.4 118.0,60.4 118.2,60.5 118.4,60.6 118.6,60.7 118.8,60.7 119.0,60.8 119.2,60.9 119.4,61.0 119.6,61.1 119.8,61.1 120.0,61.2 120.2,61.3 120.5,61.4 120.7,61.5 120.9,61.6 121.1,61.7 121.3,61.8 121.5,61.9 121.7,62.0 121.9,62.0 122.0,62.1 122.2,62.2 122.4,62.3 122.6,62.4 122.8,62.5 123.0,62.7 123.2,62.8 123.4,62.9 123.6,63.0 123.8,63.1 124.0,63.2 124.2,63.3 124.4,63.3 124.7,63.4 124.9,63.4 125.1,63.5 125.4,63.5 125.6,63.5 125.9,63.5 126.1,63.5 126.4,63.5 126.7,63.5 127.0,63.5 127.2,63.5 127.5,63.5 127.8,63.4 128.1,63.4 128.4,63.4 128.7,63.4 129.0,63.3 129.3,63.3 129.6,63.3 129.9,63.2 130.2,63.2 130.6,63.2 130.6,63.5 130.7,63.8 130.7,64.1 130.8,64.4 130.9,64.7 130.9,65.0 131.0,65.3 131.1,65.6 131.1,65.9 131.2,66.1 131.3,66.4 131.3,66.7 131.4,67.0 131.5,67.2 131.6,67.5 131.7,67.7 131.8,67.9 131.9,68.2 132.0,68.4 132.1,68.6 132.2,68.8 132.3,69.0 132.4,69.2 132.6,69.4 132.7,69.6 132.9,69.7 133.0,69.9 133.2,70.0 133.4,70.2 133.5,70.3 133.7,70.5 133.8,70.6 134.0,70.8 134.1,70.9 134.3,71.1 134.5,71.2 134.6,71.4 134.8,71.6 134.9,71.7 135.1,71.9 135.2,72.1 135.3,72.2 135.5,72.4 135.6,72.6 135.8,72.7 135.9,72.9 136.1,73.1 136.2,73.2 136.3,73.4 136.5,73.6 136.6,73.7 136.8,73.9 136.9,74.1 137.0,74.3 137.1,74.5 137.3,74.6 137.4,74.8 137.5,75.0 137.7,75.2 137.8,75.4 137.9,75.5 138.0,75.7 138.1,75.9 138.2,76.1 138.4,76.3 138.5,76.5 138.6,76.7 138.7,76.9 138.8,77.1 138.9,77.3 139.0,77.5 139.1,77.6 139.2,77.8 139.3,78.0 139.4,78.2 139.5,78.4 139.6,78.7 139.6,78.9 139.7,79.1 139.8,79.3 139.9,79.5 140.0,79.7 140.0,79.9 140.1,80.1 140.2,80.3 140.2,80.5 140.3,80.8 140.4,81.0 140.4,81.2 140.5,81.4 140.5,81.6 140.6,81.8 140.6,82.1 140.6,82.3 140.7,82.5 140.7,82.7 140.7,83.0 140.8,83.2 140.8,83.4 140.8,83.7 140.8,83.9 140.8,84.1 140.8,84.4 140.8,84.6 140.8,84.8 140.8,85.1 140.8,85.3 140.8,85.6 140.8,85.8 140.8,86.0 140.7,86.3 140.7,86.5 140.7,86.8 140.6,87.0 140.6,87.3 140.5,87.5 140.5,87.7 140.4,88.0 140.3,88.2 140.3,88.5 140.2,88.7 140.1,89.0 140.0,89.3 139.9,89.5 139.8,89.8 139.7,90.0 139.6,90.3 139.5,90.5 139.4,90.8 139.2,91.0 139.1,91.3 139.0,91.5 138.8,91.8 138.7,92.1 138.5,92.3 138.3,92.6 138.1,92.8 138.0,93.1 137.8,93.4 137.6,93.6 137.4,93.9 137.2,94.1 137.0,94.4 136.7,94.6 137.1,94.7 137.4,94.8 137.7,94.9 138.0,95.0 138.3,95.1 138.6,95.2 138.9,95.3 139.2,95.4 139.5,95.5 139.8,95.6 140.1,95.7 140.3,95.8 140.6,96.0 140.9,96.1 141.1,96.2 141.4,96.4 141.6,96.5 141.9,96.6 142.1,96.8 142.3,96.9 142.5,97.1 142.8,97.2 143.0,97.4 143.2,97.5 143.4,97.7 143.6,97.9 143.8,98.0 144.0,98.2 144.2,98.4 144.4,98.5 144.5,98.7 144.7,98.9 144.9,99.1 145.0,99.2 145.2,99.4 145.4,99.6 145.5,99.8 145.7,100.0 145.8,100.2 146.0,100.4 146.1,100.6 146.2,100.7 146.4,100.9 146.5,101.1 146.6,101.3 146.7,101.5 146.8,101.7 146.9,101.9 147.0,102.1 147.2,102.3 147.3,102.5 147.3,102.7 147.4,102.9 147.5,103.2 147.6,103.4 147.7,103.6 147.8,103.8 147.9,104.0 147.9,104.2 148.0,104.4 148.1,104.6 148.1,104.8 148.2,105.1 148.3,105.3 148.3,105.5 148.4,105.7 148.4,105.9 148.5,106.1 148.5,106.3 148.6,106.6 148.6,106.8 148.6,107.0 148.7,107.2 148.7,107.4 148.7,107.7 148.8,107.9 148.8,108.1 148.8,108.3 148.8,108.5 148.9,108.8 148.9,109.0 148.9,109.2 148.9,109.4 148.9,109.6 148.9,109.9 148.9,110.1 148.9,110.3 148.9,110.5 148.9,110.7 148.9,111.0 148.9,111.2 148.9,111.4 148.9,111.6 148.9,111.8 148.9,112.1 148.9,112.3 148.9,112.5 148.9,112.7 148.8,112.9 148.8,113.2 148.8,113.4 148.8,113.6 148.8,113.8 148.7,114.0 148.7,114.3 148.7,114.5 148.7,114.7 148.6,114.9 148.6,115.1 148.6,115.3 148.5,115.6 148.5,115.8 148.5,116.0 148.4,116.2 148.4,116.4 148.4,116.7 148.3,116.9 148.3,117.1 148.2,117.3 148.2,117.5 148.2,117.7 148.2,118.0 148.2,118.2 148.2,118.4 148.3,118.7 148.3,118.9 148.4,119.2 148.5,119.4 148.5,119.7 148.6,119.9 148.7,120.2 148.8,120.4 148.9,120.7 149.0,121.0 149.1,121.2 149.2,121.5 149.3,121.8 149.5,122.0 149.6,122.3 149.7,122.6 149.8,122.9 150.0,123.2 150.1,123.5 150.2,123.7 150.0,123.9 149.7,124.1 149.4,124.2 149.1,124.4 148.9,124.5 148.6,124.7 148.3,124.8 148.1,125.0 147.8,125.1 147.6,125.3 147.4,125.4 147.1,125.6 146.9,125.7 146.7,125.9 146.5,126.1 146.3,126.2 146.1,126.4 145.9,126.5 145.7,126.7 145.5,126.9 145.3,127.0 145.2,127.2 145.0,127.4 144.9,127.6 144.8,127.8 144.7,128.0 144.6,128.2 144.5,128.4 144.4,128.6 144.4,128.8 144.3,129.0 144.2,129.2 144.1,129.4 144.0,129.6 143.9,129.8 143.7,130.0 143.6,130.1 143.5,130.3 143.4,130.5 143.3,130.7 143.2,130.9 143.1,131.1 143.0,131.3 142.9,131.5 142.8,131.7 142.6,131.9 142.5,132.0 142.4,132.2 142.3,132.4 142.2,132.6 142.0,132.8 141.9,133.0 141.8,133.1 141.7,133.3 141.5,133.5 141.4,133.7 141.3,133.9 141.1,134.0 141.0,134.2 140.9,134.4 140.7,134.6 140.6,134.7 140.4,134.9 140.3,135.1 140.2,135.2 140.0,135.4 139.9,135.6 139.7,135.7 139.6,135.9 139.4,136.0 139.3,136.2 139.1,136.4 138.9,136.5 138.8,136.7 138.6,136.8 138.5,137.0 138.3,137.1 138.1,137.2 137.9,137.4 137.8,137.5 137.6,137.7 137.4,137.8 137.2,137.9 137.1,138.1 136.9,138.2 136.7,138.3 136.5,138.5 136.3,138.6 136.1,138.7 135.9,138.8 135.8,138.9 135.6,139.0 135.4,139.1 135.2,139.3 135.0,139.4 134.7,139.5 134.5,139.6 134.3,139.6 134.1,139.7 133.9,139.8 133.7,139.9 133.5,140.0 133.2,140.1 133.0,140.1 132.8,140.2 132.6,140.3 132.3,140.3 132.1,140.4 131.9,140.5 131.6,140.5 131.4,140.6 131.2,140.6 130.9,140.6 130.7,140.7 130.4,140.7 130.2,140.7 129.9,140.8 129.7,140.8 129.4,140.8 129.1,140.8 128.9,140.8 128.6,140.8 128.3,140.8 128.1,140.8 127.8,140.8 127.5,140.8 127.3,140.7 127.0,140.7 126.7,140.7 126.4,140.6 126.1,140.6 125.8,140.5 125.5,140.4 125.3,140.4 125.0,140.3 124.7,140.2 124.4,140.1 124.1,140.1 123.8,140.0 123.5,139.8 123.1,139.7 122.8,139.6 122.5,139.5" fill="#f6c80a"/>
<circle cx="98.75" cy="105.5" r="37" fill="#e42a28"/>
<circle cx="98.75" cy="105.5" r="34.5" fill="none" stroke="#f07a20" stroke-width="0.8"/>
<path d="M71,89.5 C73,87.5 77,87.5 79,89.5 L80.5,92 C82,94 84.3,96 84.3,99 L84.3,118 C80,120 75,120.5 71,118.5 C67,115 65,108 65.5,101 C66,96 68,92 71,89.5 Z" fill="#e6c41c"/>
<path d="M126.5,89.5 C124.5,87.5 120.5,87.5 118.5,89.5 L117,92 C115.5,94 113.2,96 113.2,99 L113.2,118 C117.5,120 122.5,120.5 126.5,118.5 C130.5,115 132.5,108 132,101 C131.5,96 129.5,92 126.5,89.5 Z" fill="#e6c41c"/>
<path d="M73,95 L76,104 M70,104 L76,113 M79,106 L82,116" stroke="#d8502a" stroke-width="1.1" fill="none"/>
<path d="M124.5,95 L121.5,104 M127.5,104 L121.5,113 M118.5,106 L115.5,116" stroke="#d8502a" stroke-width="1.1" fill="none"/>
<circle cx="74.5" cy="121" r="3.6" fill="#eec81c"/><circle cx="123.0" cy="121" r="3.6" fill="#eec81c"/><circle cx="78" cy="125.5" r="3.8" fill="#eec81c"/><circle cx="119.5" cy="125.5" r="3.8" fill="#eec81c"/><circle cx="82.5" cy="129" r="3.4" fill="#eec81c"/><circle cx="115.0" cy="129" r="3.4" fill="#eec81c"/><circle cx="87.5" cy="131.5" r="2.8" fill="#eec81c"/><circle cx="110.0" cy="131.5" r="2.8" fill="#eec81c"/><circle cx="71.5" cy="117" r="2.6" fill="#eec81c"/><circle cx="126.0" cy="117" r="2.6" fill="#eec81c"/>
<path d="M86,133.5 Q98.75,138 111.5,133.5" stroke="#eec81c" stroke-width="2.6" fill="none"/>
<path d="M82,81.5 C85,78.5 91,79 95,80 C98,78.5 108,78.5 115.5,81.5 L114,84.5 C108,83 90,83 83.5,84.5 Z" fill="#f0c418"/>
<path d="M84.3,88.4 L113.2,88.4 L113.2,118 C113.2,122 106,123.5 98.7,123.5 C91.5,123.5 84.3,122 84.3,118 Z" fill="#2f7dc4"/>
<rect x="90" y="99.4" width="17.4" height="3.1" fill="#e8eef8"/>
<rect x="90.5" y="102.5" width="16.4" height="15.2" fill="#1c1c24"/>
<path d="M95.3,117.7 L95.3,107 C95.3,105 102.1,105 102.1,107 L102.1,117.7 Z" fill="#2f7dc4"/>
<rect x="89" y="117.7" width="19.4" height="1.6" fill="#d8dde8"/>
<path d="M94.5,99.4 L98.7,95 L102.9,99.4 Z" fill="#1c1c24"/>
<rect x="92" y="105" width="1.6" height="8" fill="#e8eef8"/>
<rect x="103.8" y="105" width="1.6" height="8" fill="#e8eef8"/>
</svg>
<div class="t" style="left:435px;top:1683px;width:276px;height:0;border-top:2px solid #555"></div>
<div class="t" style="top:1657.06px;font-size:25px;left:711.00px;transform-origin:0 0;">)</div>
<div class="t" style="left:444.7px;top:1717.5px;width:252px;height:0;border-top:1.5px solid #222"></div>
<div class="t" style="top:1694.74px;font-size:23px;left:696.50px;transform-origin:0 0;">)</div>
</body></html>
